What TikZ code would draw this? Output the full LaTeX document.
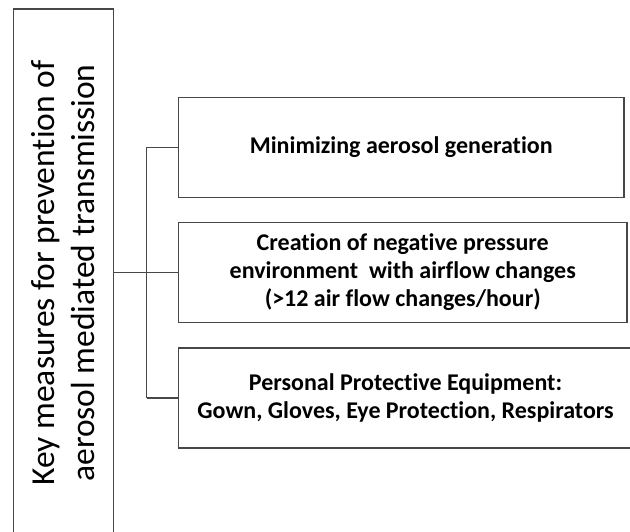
\documentclass[tikz,border=0pt]{standalone}
\usepackage{fontspec}
\setmainfont[Ligatures={NoCommon}]{Carlito}
\begin{document}
\begin{tikzpicture}[x=1pt,y=1pt,
  linecol/.style={draw=black!72, line width=1.3pt},
  mainbox/.style={linecol, fill=white, rotate=90, minimum width=528pt, minimum height=100pt,
    inner sep=0pt, align=center, font=\fontsize{33.5}{40}\selectfont},
  itembox/.style={linecol, fill=white, minimum height=100pt, inner sep=0pt,
    align=center, font=\fontsize{24}{28}\selectfont\bfseries},
  conn/.style={linecol}]
\useasboundingbox (0,0) rectangle (630,-532);
\clip (0,0) rectangle (630,-532);
\node[mainbox] (L) at (63.2,-273) {Key measures for prevention of\\aerosol mediated transmission};
\node[itembox, minimum width=445.5pt] (B1) at (401.25,-147.5) {Minimizing aerosol generation};
\node[itembox, minimum width=448.5pt] (B2) at (402.75,-272.5) {Creation of negative pressure\\environment\ \ with airflow changes\\(>12 air flow changes/hour)};
\node[itembox, minimum width=454pt] (B3) at (405.5,-398) {Personal Protective Equipment:\\Gown, Gloves, Eye Protection, Respirators};
\coordinate (J) at (146.5,-272.5);
\draw[conn] (L.south |- B2.west) -- (B2.west);
\draw[conn] (J |- B1.west) -- (B1.west);
\draw[conn] (J |- B3.west) -- (B3.west);
\draw[conn] (J |- B1.west) -- (J |- B3.west);
\end{tikzpicture}
\end{document}
